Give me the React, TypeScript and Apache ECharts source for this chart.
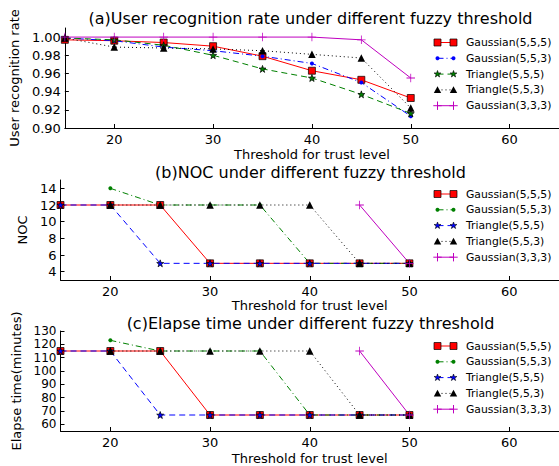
import React, { useEffect, useRef } from 'react';
import * as echarts from 'echarts';

// ---------------- data ----------------
const thresholds = [15, 20, 25, 30, 35, 40, 45, 50];
const seriesNames = ['Gaussian(5,5,5)', 'Gaussian(5,5,3)', 'Triangle(5,5,5)', 'Triangle(5,5,3)', 'Gaussian(3,3,3)'];

// (a) user recognition rate
const recogGauss555 = [0.997, 0.996, 0.994, 0.990, 0.979, 0.963, 0.953, 0.933];
const recogGauss553 = [0.999, 0.996, 0.989, 0.985, 0.979, 0.971, 0.950, 0.913];
const recogTri555 = [0.999, 0.997, 0.991, 0.980, 0.965, 0.955, 0.937, 0.916];
const recogTri553 = [0.999, 0.989, 0.988, 0.987, 0.985, 0.981, 0.977, 0.922];
const recogGauss333 = [1.0, 1.0, 1.0, 1.0, 1.0, 1.0, 0.997, 0.955];

// (b) NOC
const nocGauss555 = [12, 12, 12, 5, 5, 5, 5, 5];
const nocGauss553 = [null, 14, 12, 12, 12, 5, 5, 5];
const nocTri555 = [12, 12, 5, 5, 5, 5, 5, 5];
const nocTri553 = [null, 12, 12, 12, 12, 12, 5, 5];
const nocGauss333 = [null, null, null, null, null, null, 12, 5];

// (c) elapse time (minutes)
const timeGauss555 = [115, 115, 115, 67, 67, 67, 67, 67];
const timeGauss553 = [null, 123, 115, 115, 115, 67, 67, 67];
const timeTri555 = [115, 115, 67, 67, 67, 67, 67, 67];
const timeTri553 = [null, 115, 115, 115, 115, 115, 67, 67];
const timeGauss333 = [null, null, null, null, null, null, 115, 67];

const xTicks = [20, 30, 40, 50, 60];
const recogTicks = [0.9, 0.92, 0.94, 0.96, 0.98, 1.0];
const nocTicks = [4, 6, 8, 10, 12, 14];
const timeTicks = [60, 70, 80, 90, 100, 110, 120, 130];

const titles = [
  '(a)User recognition rate under different fuzzy threshold',
  '(b)NOC under different fuzzy threshold',
  '(c)Elapse time under different fuzzy threshold',
];
const yNames = ['User recognition rate', 'NOC', 'Elapse time(minutes)'];
const xName = 'Threshold for trust level';

// ---------------- styles ----------------
const FONT = 'DejaVu Sans';
const RED = '#ff0000';
const BLUE = '#0000ff';
const GREEN = '#008000';
const BLACK = '#000000';
const MAGENTA = '#bf00bf';

const DASHED = [6, 4];
const DOTTED = [1, 3];
const DASHDOT = [6, 3, 1, 3];

type Sym = 'square' | 'point' | 'star' | 'triangle' | 'plus';
type Sty = { color: string; dash: number[] | null; sym: Sym };

const stylesA: Sty[] = [
  { color: RED, dash: null, sym: 'square' },
  { color: BLUE, dash: DASHDOT, sym: 'point' },
  { color: GREEN, dash: DASHED, sym: 'star' },
  { color: BLACK, dash: DOTTED, sym: 'triangle' },
  { color: MAGENTA, dash: null, sym: 'plus' },
];
const stylesBC: Sty[] = [
  { color: RED, dash: null, sym: 'square' },
  { color: GREEN, dash: DASHDOT, sym: 'point' },
  { color: BLUE, dash: DASHED, sym: 'star' },
  { color: BLACK, dash: DOTTED, sym: 'triangle' },
  { color: MAGENTA, dash: null, sym: 'plus' },
];

const STAR_PTS: number[][] = [
  [5, 0], [6.176, 3.382], [9.755, 3.455], [6.902, 5.618], [7.939, 9.045],
  [5, 7], [2.061, 9.045], [3.098, 5.618], [0.245, 3.455], [3.824, 3.382],
];
const STAR_PATH = 'path://M' + STAR_PTS.map((p) => p.join(',')).join(' L') + ' Z';
const PLUS_PATH =
  'path://M4.55,0 L5.45,0 L5.45,4.55 L10,4.55 L10,5.45 L5.45,5.45 L5.45,10 L4.55,10 L4.55,5.45 L0,5.45 L0,4.55 L4.55,4.55 Z';

function symbolSpec(s: Sty) {
  switch (s.sym) {
    case 'square':
      return { symbol: 'rect', symbolSize: 7, border: true };
    case 'point':
      return { symbol: 'circle', symbolSize: 4, border: false };
    case 'star':
      return { symbol: STAR_PATH, symbolSize: 7, border: true };
    case 'triangle':
      return { symbol: 'triangle', symbolSize: 7.5, border: false };
    case 'plus':
    default:
      return { symbol: PLUS_PATH, symbolSize: 8.5, border: false };
  }
}

function makeSeries(values: (number | null)[], s: Sty, name: string, idx: number) {
  const data: number[][] = [];
  thresholds.forEach((x, i) => {
    const v = values[i];
    if (v !== null && v !== undefined) data.push([x, v]);
  });
  const sp = symbolSpec(s);
  return {
    type: 'line',
    name,
    xAxisIndex: idx,
    yAxisIndex: idx,
    data,
    symbol: sp.symbol,
    symbolSize: sp.symbolSize,
    showAllSymbol: true,
    clip: false,
    lineStyle: { color: s.color, width: 1, type: s.dash ? s.dash : 'solid' },
    itemStyle: {
      color: s.color,
      borderColor: sp.border ? '#000' : s.color,
      borderWidth: sp.border ? 0.7 : 0,
      opacity: 1,
    },
    emphasis: { disabled: true },
  };
}

function legendMarker(s: Sty, cx: number, cy: number): any[] {
  const fill = s.color;
  switch (s.sym) {
    case 'square':
      return [{ type: 'rect', shape: { x: cx - 3.5, y: cy - 3.5, width: 7, height: 7 }, style: { fill, stroke: '#000', lineWidth: 0.7 } }];
    case 'point':
      return [{ type: 'circle', shape: { cx, cy, r: 2 }, style: { fill } }];
    case 'star':
      return [{
        type: 'polygon',
        shape: { points: STAR_PTS.map((p) => [cx + (p[0] - 5) * 0.72, cy + (p[1] - 5) * 0.72]) },
        style: { fill, stroke: '#000', lineWidth: 0.6 },
      }];
    case 'triangle':
      return [{ type: 'polygon', shape: { points: [[cx, cy - 3.7], [cx + 3.7, cy + 3], [cx - 3.7, cy + 3]] }, style: { fill } }];
    case 'plus':
    default:
      return [
        { type: 'line', shape: { x1: cx - 4.2, y1: cy, x2: cx + 4.2, y2: cy }, style: { stroke: fill, lineWidth: 1 } },
        { type: 'line', shape: { x1: cx, y1: cy - 4.2, x2: cx, y2: cy + 4.2 }, style: { stroke: fill, lineWidth: 1 } },
      ];
  }
}

function legendGroup(styles: Sty[], top: number): any[] {
  const out: any[] = [];
  const x1 = 437.5;
  const x2 = 453.5;
  styles.forEach((s, i) => {
    const y = top + i * 15.8;
    out.push({
      type: 'line',
      shape: { x1, y1: y, x2, y2: y },
      style: { stroke: s.color, lineWidth: 1, lineDash: s.dash ? s.dash : null },
    });
    out.push(...legendMarker(s, x1, y));
    out.push(...legendMarker(s, x2, y));
    out.push({
      type: 'text',
      x: 466,
      y,
      style: {
        text: seriesNames[i],
        fill: '#000',
        fontSize: 10.8,
        fontFamily: FONT,
        align: 'left',
        verticalAlign: 'middle',
        textAlign: 'left',
        textVerticalAlign: 'middle',
      },
    });
  });
  return out;
}

function titleText(text: string, y: number) {
  return {
    type: 'text',
    x: 310.5,
    y,
    style: {
      text,
      fill: '#000',
      fontSize: 16,
      fontFamily: FONT,
      align: 'center',
      verticalAlign: 'middle',
      textAlign: 'center',
      textVerticalAlign: 'middle',
    },
  };
}

const GRID_LEFT = 60.5;
const GRID_WIDTH = 500;
const gridTops = [28, 180, 331];
const GRID_H = 100;
const xNameGaps = [20, 19, 21];

function xAxisCfg(idx: number) {
  return {
    type: 'value',
    gridIndex: idx,
    min: 15,
    max: 65,
    name: xName,
    nameLocation: 'middle',
    nameGap: xNameGaps[idx],
    nameTextStyle: { fontSize: 13, fontFamily: FONT, color: '#000', lineHeight: 13 },
    axisLine: { show: true, onZero: false, lineStyle: { color: '#000', width: 1 } },
    axisTick: { show: true, inside: true, length: 4, customValues: xTicks, lineStyle: { color: '#000' } },
    axisLabel: { customValues: xTicks, fontSize: 13, lineHeight: 13, fontFamily: FONT, color: '#000', margin: 5 },
    splitLine: { show: false },
  };
}

function yAxisCfg(
  idx: number, min: number, max: number, ticks: number[], name: string, gap: number,
  labelSize: number, fmt?: (v: number) => string,
) {
  return {
    type: 'value',
    gridIndex: idx,
    min,
    max,
    name,
    nameLocation: 'middle',
    nameGap: gap,
    nameTextStyle: { fontSize: 13, fontFamily: FONT, color: '#000', lineHeight: 13 },
    axisLine: { show: true, onZero: false, lineStyle: { color: '#000', width: 1 } },
    axisTick: { show: true, inside: true, length: 4, customValues: ticks, lineStyle: { color: '#000' } },
    axisLabel: {
      customValues: ticks,
      fontSize: labelSize,
      lineHeight: labelSize,
      fontFamily: FONT,
      color: '#000',
      margin: 4,
      formatter: fmt ? fmt : (v: number) => String(v),
    },
    splitLine: { show: false },
  };
}

export default function App() {
  const ref = useRef<HTMLDivElement>(null);
  useEffect(() => {
    if (!ref.current) return;
    const chart = echarts.init(ref.current, null, { renderer: 'svg' });
    const recog = [recogGauss555, recogGauss553, recogTri555, recogTri553, recogGauss333];
    const noc = [nocGauss555, nocGauss553, nocTri555, nocTri553, nocGauss333];
    const time = [timeGauss555, timeGauss553, timeTri555, timeTri553, timeGauss333];
    const series: any[] = [];
    recog.forEach((v, i) => series.push(makeSeries(v, stylesA[i], seriesNames[i], 0)));
    noc.forEach((v, i) => series.push(makeSeries(v as (number | null)[], stylesBC[i], seriesNames[i], 1)));
    time.forEach((v, i) => series.push(makeSeries(v as (number | null)[], stylesBC[i], seriesNames[i], 2)));

    const option: any = {
      animation: false,
      backgroundColor: '#ffffff',
      grid: gridTops.map((t) => ({ left: GRID_LEFT, top: t, width: GRID_WIDTH, height: GRID_H, containLabel: false })),
      xAxis: [xAxisCfg(0), xAxisCfg(1), xAxisCfg(2)],
      yAxis: [
        yAxisCfg(0, 0.9, 1.01, recogTicks, yNames[0], 40, 13, (v: number) => v.toFixed(2)),
        yAxisCfg(1, 3, 15, nocTicks, yNames[1], 26, 13),
        yAxisCfg(2, 55, 130, timeTicks, yNames[2], 34, 12),
      ],
      series,
      graphic: [
        titleText(titles[0], 18),
        titleText(titles[1], 172),
        titleText(titles[2], 323),
        ...legendGroup(stylesA, 42.5),
        ...legendGroup(stylesBC, 194),
        ...legendGroup(stylesBC, 346),
      ],
    };
    chart.setOption(option);
    return () => chart.dispose();
  }, []);
  return (
    <div
      ref={ref}
      style={{ position: 'fixed', left: 0, top: 0, width: 559, height: 466, background: '#fff' }}
    />
  );
}
